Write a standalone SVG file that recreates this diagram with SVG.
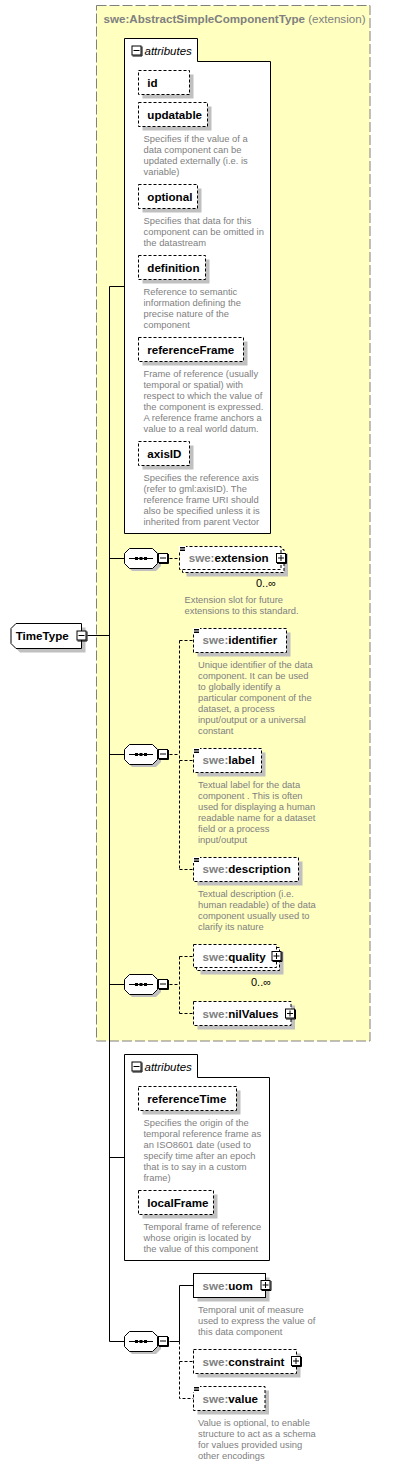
<svg xmlns="http://www.w3.org/2000/svg" xmlns:xlink="http://www.w3.org/1999/xlink" width="413" height="1466" viewBox="0 0 413 1466">
<style>
.yb{fill:#ffffc0;stroke:#808080;stroke-dasharray:10 3}
.tab{fill:#fff;stroke:#000}
.sh{fill:#c0c0c0}
.el{fill:#fff;stroke:#000;stroke-dasharray:3 2}
.elr{fill:#fff;stroke:#000}
.nm{font-family:"Liberation Sans",Arial,sans-serif;font-weight:bold;font-size:11.6px;fill:#000}
.ns{fill:#808080}
.it{font-family:"Liberation Sans",Arial,sans-serif;font-style:italic;font-size:11.5px;fill:#000}
.doc{font-family:"Liberation Sans",Arial,sans-serif;font-size:9.4px;fill:#808080}
.oc{font-family:"Liberation Sans",Arial,sans-serif;font-size:11px;fill:#000}
.ln{stroke:#000;fill:none}
.dl{stroke:#000;fill:none;stroke-dasharray:3 2}
</style>
<defs>
<g id="minus"><rect x="0.5" y="0.5" width="9" height="9" fill="#fff" stroke="#000"/><path d="M10.5,1V10.5H1" stroke="#000" fill="none"/><path d="M2,5H8" stroke="#000"/></g>
<g id="plus"><rect x="0.5" y="0.5" width="9" height="9" fill="#fff" stroke="#000"/><path d="M10.5,1V10.5H1" stroke="#000" fill="none"/><path d="M2,5H8M5,2V8" stroke="#000"/></g>
<g id="seq"><polygon points="8,3 32,3 37,8 37,18 32,23 8,23 3,18 3,8" fill="#c0c0c0"/><polygon points="5.5,0.5 28.5,0.5 33.5,5.5 33.5,15.5 28.5,20.5 5.5,20.5 0.5,15.5 0.5,5.5" fill="#fff" stroke="#000"/><path d="M5,10.5H29" stroke="#000"/><rect x="11" y="9" width="3" height="3"/><rect x="15.5" y="9" width="3" height="3"/><rect x="20" y="9" width="3" height="3"/><use xlink:href="#minus" x="34" y="5"/></g>
<g id="docic"><rect x="0" y="0" width="7" height="6" fill="#fff"/><path d="M1,1.5H6M1,3H6M1,4.5H6" stroke="#000"/></g>
</defs>

<g id="base">
<rect class="yb" x="96.5" y="5.5" width="273.5" height="1035.5"/>
<text x="103.5" y="23" font-family="Liberation Sans, Arial, sans-serif" font-size="11.6px" fill="#808080"><tspan font-weight="bold">swe:AbstractSimpleComponentType</tspan> (extension)</text>
</g>

<g id="connectors">
<path class="ln" d="M109.5,286.5V1341.5H124.5M109.5,286.5H124.5M109.5,558.5H124.5M87.5,635.5H109.5M109.5,754.5H124.5M109.5,984.5H124.5M109.5,1157.5H124.5"/>
<path class="dl" d="M169.5,558.5H179.5"/>
<path class="dl" d="M169.5,754.5H179.5M179.5,640.5V869.5M179.5,640.5H193.5M179.5,760.5H193.5M179.5,869.5H193.5"/>
<path class="dl" d="M169.5,984.5H179.5M179.5,956.5V1013.5M179.5,956.5H193.5M179.5,1013.5H193.5"/>
<path class="ln" d="M169.5,1341.5H179.5V1285.5H193.5"/>
<path class="dl" d="M179.5,1341.5V1398.5H193.5M179.5,1361.5H193.5"/>
</g>

<g id="TimeType">
<polygon class="sh" points="20,627.5 85.5,627.5 85.5,652.5 20,652.5 15,647.5 15,632.5"/>
<polygon points="16,623.5 81.5,623.5 81.5,648.5 16,648.5 11,643.5 11,628.5" fill="#fff" stroke="#000"/>
<text class="nm" x="15.7" y="639.5">TimeType</text>
<use xlink:href="#minus" x="76.5" y="630.5"/>
</g>

<g id="attributes1">
<path class="tab" d="M124.5,533.5V38.5H197.5V61.5H270.5V533.5Z"/>
<use xlink:href="#minus" x="131.5" y="45.5"/>
<text class="it" x="144.5" y="55">attributes</text>
</g>

<g id="id">
<rect class="sh" x="142.5" y="74.5" width="51" height="24"/>
<rect class="el" x="138.5" y="70.5" width="51" height="24"/>
<text class="nm" x="147.3" y="86.5">id</text>
</g>
<g id="updatable">
<rect class="sh" x="142.5" y="106.5" width="69" height="24"/>
<rect class="el" x="138.5" y="102.5" width="69" height="24"/>
<text class="nm" x="147.3" y="118.5">updatable</text>
<text class="doc" x="143.5" y="141.5"><tspan x="143.5">Specifies if the value of a</tspan><tspan x="143.5" dy="11">data component can be</tspan><tspan x="143.5" dy="11">updated externally (i.e. is</tspan><tspan x="143.5" dy="11">variable)</tspan></text>
</g>
<g id="optional">
<rect class="sh" x="142.5" y="188.5" width="59" height="24"/>
<rect class="el" x="138.5" y="184.5" width="59" height="24"/>
<text class="nm" x="147.3" y="200.5">optional</text>
<text class="doc" x="143.5" y="223.5"><tspan x="143.5">Specifies that data for this</tspan><tspan x="143.5" dy="11">component can be omitted in</tspan><tspan x="143.5" dy="11">the datastream</tspan></text>
</g>
<g id="definition">
<rect class="sh" x="142.5" y="259.5" width="67" height="24"/>
<rect class="el" x="138.5" y="255.5" width="67" height="24"/>
<text class="nm" x="147.3" y="271.5">definition</text>
<text class="doc" x="143.5" y="294.5"><tspan x="143.5">Reference to semantic</tspan><tspan x="143.5" dy="11">information defining the</tspan><tspan x="143.5" dy="11">precise nature of the</tspan><tspan x="143.5" dy="11">component</tspan></text>
</g>
<g id="referenceFrame">
<rect class="sh" x="142.5" y="341.5" width="105" height="24"/>
<rect class="el" x="138.5" y="337.5" width="105" height="24"/>
<text class="nm" x="147.3" y="353.5">referenceFrame</text>
<text class="doc" x="143.5" y="376.5"><tspan x="143.5">Frame of reference (usually</tspan><tspan x="143.5" dy="11">temporal or spatial) with</tspan><tspan x="143.5" dy="11">respect to which the value of</tspan><tspan x="143.5" dy="11">the component is expressed.</tspan><tspan x="143.5" dy="11">A reference frame anchors a</tspan><tspan x="143.5" dy="11">value to a real world datum.</tspan></text>
</g>
<g id="axisID">
<rect class="sh" x="142.5" y="445.5" width="51" height="24"/>
<rect class="el" x="138.5" y="441.5" width="51" height="24"/>
<text class="nm" x="147.3" y="457.5">axisID</text>
<text class="doc" x="143.5" y="480.5"><tspan x="143.5">Specifies the reference axis</tspan><tspan x="143.5" dy="11">(refer to gml:axisID). The</tspan><tspan x="143.5" dy="11">reference frame URI should</tspan><tspan x="143.5" dy="11">also be specified unless it is</tspan><tspan x="143.5" dy="11">inherited from parent Vector</tspan></text>
</g>

<g id="sequence1"><use xlink:href="#seq" x="124" y="548"/></g>
<g id="extension">
<rect class="sh" x="186.5" y="553.5" width="101.5" height="23"/>
<rect class="el" x="182.5" y="549.5" width="101.5" height="23"/>
<rect class="el" x="179.5" y="546.5" width="101.5" height="23"/>
<use xlink:href="#docic" x="179" y="546"/>
<text class="nm" x="188.7" y="562"><tspan class="ns">swe:</tspan>extension</text>
<use xlink:href="#plus" x="276" y="553"/>
<text class="oc" x="256" y="587">0..∞</text>
<text class="doc" x="184.5" y="602.5"><tspan x="184.5">Extension slot for future</tspan><tspan x="184.5" dy="11">extensions to this standard.</tspan></text>
</g>

<g id="sequence2"><use xlink:href="#seq" x="124" y="744"/></g>
<g id="identifier">
<rect class="sh" x="197.5" y="632.5" width="93" height="24"/>
<rect class="el" x="193.5" y="628.5" width="93" height="24"/>
<use xlink:href="#docic" x="193" y="628"/>
<text class="nm" x="202.5" y="644"><tspan class="ns">swe:</tspan>identifier</text>
<text class="doc" x="198" y="667.5"><tspan x="198">Unique identifier of the data</tspan><tspan x="198" dy="11">component. It can be used</tspan><tspan x="198" dy="11">to globally identify a</tspan><tspan x="198" dy="11">particular component of the</tspan><tspan x="198" dy="11">dataset, a process</tspan><tspan x="198" dy="11">input/output or a universal</tspan><tspan x="198" dy="11">constant</tspan></text>
</g>
<g id="label">
<rect class="sh" x="197.5" y="752.5" width="68" height="24"/>
<rect class="el" x="193.5" y="748.5" width="68" height="24"/>
<use xlink:href="#docic" x="193" y="748"/>
<text class="nm" x="202.5" y="764"><tspan class="ns">swe:</tspan>label</text>
<text class="doc" x="198" y="787.5"><tspan x="198">Textual label for the data</tspan><tspan x="198" dy="11">component . This is often</tspan><tspan x="198" dy="11">used for displaying a human</tspan><tspan x="198" dy="11">readable name for a dataset</tspan><tspan x="198" dy="11">field or a process</tspan><tspan x="198" dy="11">input/output</tspan></text>
</g>
<g id="description">
<rect class="sh" x="197.5" y="861.5" width="105" height="24"/>
<rect class="el" x="193.5" y="857.5" width="105" height="24"/>
<use xlink:href="#docic" x="193" y="857"/>
<text class="nm" x="202.5" y="873"><tspan class="ns">swe:</tspan>description</text>
<text class="doc" x="198" y="896.5"><tspan x="198">Textual description (i.e.</tspan><tspan x="198" dy="11">human readable) of the data</tspan><tspan x="198" dy="11">component usually used to</tspan><tspan x="198" dy="11">clarify its nature</tspan></text>
</g>

<g id="sequence3"><use xlink:href="#seq" x="124" y="974"/></g>
<g id="quality">
<rect class="sh" x="200.5" y="951.5" width="83" height="23"/>
<rect class="el" x="196.5" y="947.5" width="83" height="23"/>
<rect class="el" x="193.5" y="944.5" width="83" height="23"/>
<text class="nm" x="202.5" y="960.5"><tspan class="ns">swe:</tspan>quality</text>
<use xlink:href="#plus" x="271.5" y="951"/>
<text class="oc" x="251" y="986">0..∞</text>
</g>
<g id="nilValues">
<rect class="sh" x="197.5" y="1005.5" width="97.5" height="24"/>
<rect class="el" x="193.5" y="1001.5" width="97.5" height="24"/>
<text class="nm" x="202.5" y="1017.5"><tspan class="ns">swe:</tspan>nilValues</text>
<use xlink:href="#plus" x="285" y="1008.5"/>
</g>

<g id="attributes2">
<path class="tab" d="M124.5,1260.5V1054.5H197.5V1077.5H269.5V1260.5Z"/>
<use xlink:href="#minus" x="131.5" y="1061.5"/>
<text class="it" x="144.5" y="1071">attributes</text>
</g>
<g id="referenceTime">
<rect class="sh" x="142.5" y="1090.5" width="98" height="24"/>
<rect class="el" x="138.5" y="1086.5" width="98" height="24"/>
<text class="nm" x="147.3" y="1102.5">referenceTime</text>
<text class="doc" x="143.5" y="1125.5"><tspan x="143.5">Specifies the origin of the</tspan><tspan x="143.5" dy="11">temporal reference frame as</tspan><tspan x="143.5" dy="11">an ISO8601 date (used to</tspan><tspan x="143.5" dy="11">specify time after an epoch</tspan><tspan x="143.5" dy="11">that is to say in a custom</tspan><tspan x="143.5" dy="11">frame)</tspan></text>
</g>
<g id="localFrame">
<rect class="sh" x="142.5" y="1194.5" width="75" height="24"/>
<rect class="el" x="138.5" y="1190.5" width="75" height="24"/>
<text class="nm" x="147.3" y="1206.5">localFrame</text>
<text class="doc" x="143.5" y="1229.5"><tspan x="143.5">Temporal frame of reference</tspan><tspan x="143.5" dy="11">whose origin is located by</tspan><tspan x="143.5" dy="11">the value of this component</tspan></text>
</g>

<g id="sequence4"><use xlink:href="#seq" x="124" y="1331"/></g>
<g id="uom">
<rect class="sh" x="197.5" y="1277.5" width="72" height="24"/>
<rect class="elr" x="193.5" y="1273.5" width="72" height="24"/>
<text class="nm" x="202.5" y="1289.5"><tspan class="ns">swe:</tspan>uom</text>
<use xlink:href="#plus" x="260.5" y="1280"/>
<text class="doc" x="198" y="1312.5"><tspan x="198">Temporal unit of measure</tspan><tspan x="198" dy="11">used to express the value of</tspan><tspan x="198" dy="11">this data component</tspan></text>
</g>
<g id="constraint">
<rect class="sh" x="197.5" y="1353.5" width="103" height="24"/>
<rect class="el" x="193.5" y="1349.5" width="103" height="24"/>
<text class="nm" x="202.5" y="1365.5"><tspan class="ns">swe:</tspan>constraint</text>
<use xlink:href="#plus" x="291" y="1356"/>
</g>
<g id="value">
<rect class="sh" x="197.5" y="1390.5" width="71.5" height="24"/>
<rect class="el" x="193.5" y="1386.5" width="71.5" height="24"/>
<use xlink:href="#docic" x="193" y="1386"/>
<text class="nm" x="202.5" y="1402.5"><tspan class="ns">swe:</tspan>value</text>
<text class="doc" x="198" y="1425.5"><tspan x="198">Value is optional, to enable</tspan><tspan x="198" dy="11">structure to act as a schema</tspan><tspan x="198" dy="11">for values provided using</tspan><tspan x="198" dy="11">other encodings</tspan></text>
</g>
</svg>
